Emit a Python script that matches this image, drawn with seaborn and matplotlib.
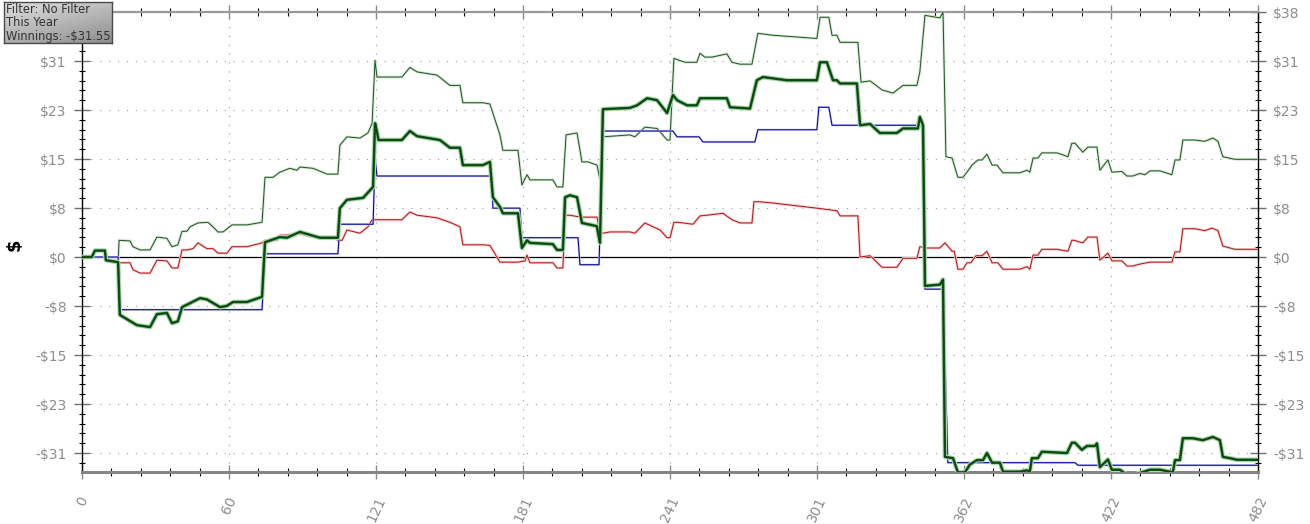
import numpy as np
import pandas as pd
import matplotlib
matplotlib.use("Agg")
import matplotlib.pyplot as plt
import matplotlib.patheffects as pe
from matplotlib.colors import LinearSegmentedColormap
from matplotlib.ticker import FixedLocator, MultipleLocator
import seaborn as sns

# ---------------- data (hand number, dollars) ----------------
net_hands = [0, 4, 5.3, 9.4, 9.8, 14.8, 15.5, 22.5, 27.9, 30.7, 34.8, 36.9, 39.3, 41, 48.4, 51.2, 56.6, 59.4,
             61.9, 67.6, 73.8, 75, 81.1, 84, 89.3, 97.5, 104.9, 105.7, 108.6, 115.2, 119.3, 120.1, 120.9, 121.5,
             131.1, 134.4, 137.3, 146.7, 150.8, 154.9, 156.1, 164.3, 167.2, 168.4, 171.3, 172.5, 178.7, 180.3,
             182.4, 183.6, 193, 194.7, 197.1, 198, 200, 202.9, 204.9, 211, 212.3, 213.5, 224.6, 227.5, 231.6,
             235.7, 239.8, 242.2, 243.9, 248, 252, 253.3, 264.3, 265.6, 273.8, 276.6, 279.1, 288.9, 301.2, 302.5,
             305.3, 307.8, 309.4, 310.7, 317.6, 318.9, 323, 327, 334, 336.5, 342.6, 343.4, 344.7, 345.5, 351.6,
             352.9, 353.7, 357, 359, 361.9, 363.9, 366.8, 369.3, 370.9, 373, 376.2, 377.5, 384.4, 387.3, 388.5,
             389.3, 391.8, 393.4, 403.7, 405.7, 407, 409.8, 411.9, 415.2, 416, 417.2, 420.5, 422.1, 425.4, 428.3,
             430.7, 433.6, 437.7, 441.8, 447.1, 448, 450, 451.2, 455.3, 459.4, 463.5, 466.4, 467.6, 470.5, 473.4, 482]
net_won = [0, 0, 1.0, 1.0, -0.5, -0.8, -9.0, -10.6, -10.9, -8.9, -8.7, -10.3, -10.0, -7.8, -6.4, -6.6, -7.8, -7.6,
           -7.0, -7.0, -6.2, 2.3, 3.1, 3.0, 3.9, 3.0, 3.0, 7.6, 8.9, 9.2, 10.9, 20.8, 19.5, 18.2,
           18.2, 19.6, 18.8, 18.2, 17.0, 17.0, 14.3, 14.3, 14.8, 9.3, 7.8, 6.8, 6.8, 1.4,
           2.6, 2.2, 2.0, 1.1, 1.1, 9.3, 9.6, 9.3, 5.3, 4.8, 2.2, 23.0, 23.2, 23.6, 24.7,
           24.4, 22.4, 25.2, 24.4, 23.6, 23.6, 24.7, 24.7, 23.3, 23.1, 27.5, 28.0, 27.5, 27.5, 30.3,
           30.3, 27.5, 27.5, 27.0, 27.0, 20.5, 20.7, 19.3, 19.3, 20.0, 20.0, 21.8, 20.5, -4.5, -4.3,
           -3.5, -31.1, -31.3, -33.5, -33.5, -32.3, -31.6, -31.6, -30.5, -32.0, -32.0, -33.4, -33.4, -33.2, -33.4,
           -31.3, -31.3, -30.3, -30.5, -28.9, -28.9, -30.0, -29.4, -29.4, -29.0, -32.7, -31.5, -33.1, -33.1, -33.9,
           -33.9, -33.6, -33.1, -33.1, -33.5, -31.6, -31.6, -28.2, -28.2, -28.5, -28.0, -28.5, -31.1, -31.3, -31.55, -31.55]

ev_hands = [0, 14.8, 15.6, 73.8, 75, 104.9, 105.7, 119.3, 120.1, 120.9, 168, 168.4, 179.5, 180.3, 203.3, 204.1,
            211.9, 213.5, 242.2, 243.9, 252.9, 254.5, 275.8, 277, 301.2, 302, 306.1, 307.4, 344.3, 345.5, 352.9,
            354.9, 407, 408.2, 482]
ev_won = [0, 0, -8.2, -8.2, 0.5, 0.5, 5.1, 5.1, 15.4, 12.6, 12.6, 7.6, 7.6, 3.0, 3.0, -1.2,
          -1.2, 19.6, 19.6, 18.7, 18.7, 17.9, 17.9, 19.8, 19.8, 23.3, 23.3, 20.5, 20.5, -5.0, -5.0,
          -32.0, -32.0, -32.4, -32.4]

showdown_hands = [0, 4, 5.3, 9.4, 9.8, 14.8, 15.2, 19.7, 20.9, 23.8, 27.9, 30.7, 34.8, 36.9, 39.3, 41.0, 43.0, 44.3,
                  47.5, 51.6, 53.7, 55.7, 57.8, 61.5, 67.6, 73.8, 75.0, 78.3, 81.1, 85.2, 88.1, 89.3, 94.7, 100.4,
                  104.9, 105.7, 108.6, 113.9, 117.2, 118.9, 120.1, 120.9, 131.1, 134.4, 137.3, 145.5, 150.8, 154.9,
                  156.1, 164.3, 167.2, 171.3, 172.5, 178.7, 180.3, 182.4, 183.6, 193.0, 194.7, 197.1, 198.4, 202.9,
                  204.9, 207.4, 211.1, 212.3, 213.5, 224.6, 226.6, 230.7, 235.7, 239.8, 241.0, 242.6, 247.1, 252.0,
                  253.3, 255.3, 258.2, 264.3, 266.4, 269.7, 274.6, 277.0, 283.2, 301.2, 302.5, 306.1, 307.4, 309.4,
                  310.7, 318.0, 319.3, 323.0, 327.9, 332.4, 336.5, 342.2, 343.4, 345.5, 351.6, 352.9, 354.1, 356.6,
                  359.0, 361.1, 362.7, 364.8, 367.2, 368.9, 370.9, 373.0, 375.0, 377.5, 384.4, 387.3, 388.5, 389.8,
                  391.8, 393.4, 399.6, 402.0, 404.1, 405.7, 407.0, 410.2, 412.3, 416.0, 417.2, 420.5, 422.1, 426.2,
                  428.3, 430.7, 433.6, 435.7, 437.7, 441.8, 446.7, 448.0, 450.0, 451.2, 456.1, 460.2, 463.5, 465.6,
                  467.6, 472.5, 482]
showdown_won = [0, 0, 1.0, 1.0, -0.5, -0.8, 2.6, 2.5, 1.6, 1.1, 1.1, 3.1, 2.9, 1.6, 1.9, 4.0, 4.0, 4.7,
                5.3, 5.4, 4.7, 3.9, 3.9, 5.0, 5.0, 5.4, 12.4, 12.4, 13.2, 13.8, 13.5, 14.0, 13.8, 12.9,
                12.9, 17.4, 18.7, 18.5, 19.3, 20.8, 30.6, 28.0, 28.0, 29.5, 28.8, 28.3, 26.7, 26.7,
                24.0, 24.0, 23.8, 19.0, 16.6, 16.6, 11.2, 12.8, 12.0, 12.0, 10.9, 10.9, 19.0, 19.3,
                14.8, 14.8, 14.3, 12.0, 18.7, 19.0, 18.7, 20.2, 20.0, 18.2, 18.2, 30.9, 30.3, 30.3,
                31.7, 31.1, 31.1, 31.6, 30.3, 30.0, 30.0, 34.8, 34.5, 34.0, 37.3, 37.3, 34.5, 34.5,
                33.4, 33.4, 27.2, 27.4, 26.0, 25.5, 26.7, 26.7, 28.8, 37.6, 37.2, 38.1, 15.6, 15.4,
                12.4, 12.4, 13.2, 14.3, 15.1, 15.1, 16.0, 14.3, 14.3, 13.1, 13.1, 13.5, 13.2, 15.4,
                15.4, 16.2, 16.2, 15.9, 15.6, 17.7, 17.7, 16.3, 17.1, 17.1, 13.5, 15.1, 13.2, 13.3,
                12.6, 12.6, 13.0, 12.8, 13.4, 13.4, 12.8, 15.1, 15.1, 18.2, 18.2, 18.0, 18.5, 18.0,
                15.6, 15.2, 15.2]

nonsd_hands = [0, 4, 5.3, 9.4, 9.8, 14.8, 15.2, 19.7, 20.9, 23.8, 27.9, 30.7, 34.8, 36.9, 39.3, 41.0, 43.0, 45.5,
               47.5, 51.2, 53.7, 55.7, 59.4, 61.5, 67.6, 73.8, 75.0, 79.9, 81.1, 84.0, 88.1, 94.7, 102.5, 104.9,
               106.6, 108.6, 113.9, 117.2, 118.9, 131.1, 134.4, 137.3, 145.5, 150.8, 154.9, 156.1, 164.3, 167.2,
               171.3, 178.7, 181.6, 182.4, 183.6, 193.0, 194.7, 197.1, 198.0, 200.0, 202.9, 205.3, 211.1, 212.3,
               213.5, 216.4, 224.6, 226.6, 230.7, 236.9, 239.8, 241.0, 242.6, 244.3, 250.4, 253.3, 256.1, 262.7,
               266.4, 269.7, 274.6, 275.4, 277.5, 283.2, 301.2, 305.3, 309.4, 310.7, 318.0, 318.9, 323.0, 327.9,
               334.0, 336.5, 342.2, 343.4, 346.3, 351.6, 353.7, 356.6, 357.5, 359.0, 361.1, 362.7, 364.3, 366.4,
               368.9, 370.9, 373.0, 375.4, 377.5, 384.4, 387.3, 388.5, 389.8, 391.8, 393.4, 399.6, 404.1, 405.7,
               406.6, 410.2, 412.3, 416.0, 417.2, 420.5, 422.1, 426.2, 428.3, 430.7, 433.6, 437.7, 446.7, 448.0,
               450.0, 451.2, 456.1, 460.2, 463.2, 465.6, 467.6, 472.5, 482]
nonsd_won = [0, 0, 1.0, 1.0, -0.5, -0.8, -0.9, -0.9, -2.0, -2.5, -2.5, -0.5, -0.6, -1.7, -1.7, 1.1, 1.1, 1.3,
             2.2, 1.3, 1.3, 0.6, 0.6, 1.6, 1.6, 2.2, 2.6, 2.6, 3.4, 3.4, 3.7, 3.1, 3.1, 2.6,
             2.6, 4.2, 3.7, 4.7, 5.8, 5.8, 7.0, 6.5, 6.1, 5.4, 4.7, 1.9, 1.9, 1.8,
             -0.8, -0.8, -0.6, 0.3, -0.9, -0.9, -1.7, -1.7, 6.5, 6.5, 6.3, 6.2, 6.2, 3.7,
             3.7, 3.9, 3.9, 3.7, 5.3, 4.2, 3.0, 3.0, 5.4, 5.4, 5.1, 6.4, 6.5, 6.8,
             5.8, 5.3, 5.3, 8.6, 8.6, 8.4, 7.6, 7.4, 7.2, 6.4, 6.4, 0.0, 0.2, -1.6,
             -1.6, -0.2, -0.2, 1.6, 1.4, 1.4, 2.2, 0.9, 0.9, -1.9, -1.9, -0.9, -0.9, 0.2,
             0.2, 0.9, -0.9, -0.9, -1.9, -1.9, -1.5, -1.9, 0.3, 0.3, 1.2, 1.2, 0.9, 2.6,
             2.6, 2.2, 3.1, 3.1, -0.5, 0.6, -0.6, -0.6, -1.4, -1.4, -1.1, -0.8, -0.8, 0.8,
             0.8, 4.4, 4.4, 4.1, 4.5, 4.1, 1.7, 1.2, 1.2]

x_tick_labels = ["0", "60", "121", "181", "241", "301", "362", "422", "482"]
y_tick_labels = ["-$31", "-$23", "-$15", "-$8", "$0", "$8", "$15", "$23", "$31", "$38"]
info_lines = ["Filter: No Filter", "This Year", "Winnings: -$31.55"]

X_MAX = 482
Y_TOP = 38.12
Y_BOTTOM = -33.45

# ---------------- style ----------------
sns.set_theme(style="white")
plt.rcParams['font.family'] = ['DejaVu Sans']

W, H = 1310, 524
fig = plt.figure(figsize=(W / 100, H / 100), dpi=100)
fig.patch.set_facecolor("white")
ax = fig.add_axes([82 / W, 1 - 472 / H, (1258 - 82) / W, (472 - 12) / H])
ax.set_facecolor("white")


def draw(hands, won, color, lw, halo, z, halo_extra=1.2):
    df = pd.DataFrame({"hand": hands, "won": won})
    sns.lineplot(data=df, x="hand", y="won", ax=ax, color=color, linewidth=lw,
                 sort=False, estimator=None, zorder=z)
    line = ax.lines[-1]
    line.set_path_effects([pe.Stroke(linewidth=lw + halo_extra, foreground=halo), pe.Normal()])
    line.set_solid_joinstyle("round")
    return df


ax.axhline(0, color="black", lw=0.9, zorder=2)

draw(showdown_hands, showdown_won, "#1e561e", 0.7, "#cfe3cf", 3)
draw(nonsd_hands, nonsd_won, "#b41212", 0.7, "#f4cccc", 3)
draw(ev_hands, ev_won, "#0a0a96", 0.8, "#d0d0f2", 4, halo_extra=0.8)
net_df = draw(net_hands, net_won, "#0d5c14", 1.8, "#b3d6b3", 5, halo_extra=1.6)
sns.lineplot(data=net_df, x="hand", y="won", ax=ax, color="#0a200a", linewidth=0.6,
             sort=False, estimator=None, zorder=6, linestyle=(0, (1.3, 1.3)))

# ---------------- axes ----------------
ax.set_xlim(0, X_MAX)
ax.set_ylim(Y_BOTTOM, Y_TOP)
ax.set_xlabel("")
ax.set_ylabel("")

xstep = X_MAX / (len(x_tick_labels) - 1)
ax.xaxis.set_major_locator(FixedLocator([i * xstep for i in range(len(x_tick_labels))]))
ax.set_xticklabels(x_tick_labels)
ax.xaxis.set_minor_locator(MultipleLocator(xstep / 5))

ystep = Y_TOP / 5
ax.yaxis.set_major_locator(FixedLocator([(i - 4) * ystep for i in range(len(y_tick_labels))]))
ax.set_yticklabels(y_tick_labels)
ax.yaxis.set_minor_locator(MultipleLocator(ystep / 5))

ax.grid(True, which="major", color="#9a9a9a", linewidth=0.8, linestyle=(0, (1, 7)))
ax.set_axisbelow(True)

ax.tick_params(axis="y", which="major", direction="inout", length=11, width=1.0, color="#6e6e6e",
               left=True, right=True, labelleft=True, labelright=True,
               labelsize=10, labelcolor="#8c8c8c", pad=5.5)
ax.tick_params(axis="y", which="minor", direction="inout", length=5, width=0.8, color="black",
               left=True, right=True)
ax.tick_params(axis="x", which="major", direction="inout", length=10, width=1.0, color="#8a8a8a",
               bottom=True, top=True, labelbottom=True, labeltop=False,
               labelsize=10, labelcolor="#8c8c8c", pad=11)
ax.tick_params(axis="x", which="minor", direction="inout", length=6, width=0.8, color="black",
               bottom=True, top=True)
for lab in ax.get_xticklabels():
    lab.set_rotation(65)
    lab.set_ha("center")
    lab.set_va("top")

# the left top label sits under the info box in the reference
fig.canvas.draw()
ax.yaxis.get_major_ticks()[-1].label1.set_visible(False)

for side, col, lw in [("left", "black", 1.0), ("right", "black", 1.0),
                      ("bottom", "#858585", 2.2), ("top", "#9a9a9a", 1.6)]:
    ax.spines[side].set_visible(True)
    ax.spines[side].set_color(col)
    ax.spines[side].set_linewidth(lw)

fig.text(15 / W, 1 - 245 / H, "$", rotation=90, fontsize=13, fontweight="bold",
         color="black", ha="center", va="center")

# ---------------- info box ----------------
box = fig.add_axes([4 / W, 1 - 43 / H, 108 / W, 41 / H])
gy, gx = np.mgrid[0:1:60j, 0:1:120j]
grad = 0.6 * gy + 0.4 * gx
cmap = LinearSegmentedColormap.from_list("g", ["#e0e0e0", "#8e8e8e"])
box.imshow(grad, cmap=cmap, aspect="auto", extent=[0, 1, 0, 1], vmin=0, vmax=1)
box.set_xticks([])
box.set_yticks([])
box.set_xlim(0, 1)
box.set_ylim(0, 1)
for s in box.spines.values():
    s.set_color("#4a4a4a")
    s.set_linewidth(1.0)
for i, t in enumerate(info_lines):
    box.text(0.02, 0.82 - i * 0.33, t, fontsize=8.3, color="#333333",
             ha="left", va="center", transform=box.transAxes)

fig.savefig("out.png", dpi=100)
